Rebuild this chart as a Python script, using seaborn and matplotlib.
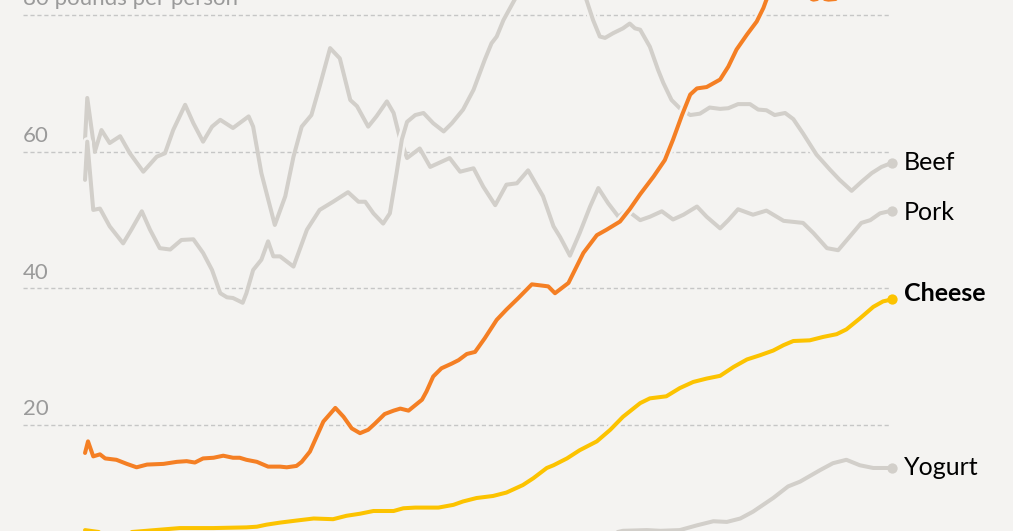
import matplotlib
matplotlib.use("Agg")
import matplotlib.pyplot as plt
import matplotlib.patheffects as pe
import numpy as np
import pandas as pd
import seaborn as sns

# Per-capita consumption, pounds per person
pork_year = [1909.0, 1909.3, 1910.3, 1911.2, 1912.3, 1913.7, 1915.0, 1916.8, 1918.6, 1919.7,
             1920.8, 1922.4, 1923.5, 1924.8, 1926.0, 1927.1, 1928.8, 1930.9, 1931.5, 1932.6,
             1934.4, 1935.8, 1936.9, 1938.0, 1939.3, 1940.4, 1941.8, 1943.1, 1944.5, 1945.4,
             1946.9, 1948.0, 1949.4, 1950.3, 1951.1, 1952.1, 1953.8, 1955.2, 1957.8, 1959.2,
             1961.0, 1962.3, 1963.9, 1965.4, 1966.8, 1968.3, 1970.3, 1971.7, 1972.6, 1973.9,
             1975.2, 1976.6, 1977.7, 1979.0, 1980.4, 1981.5, 1983.3, 1984.6, 1986.2, 1987.7,
             1989.1, 1990.9, 1992.2, 1994.0, 1995.1, 1996.4, 1998.4, 2000.2, 2002.5, 2005.1,
             2006.5, 2008.3, 2009.8, 2011.2, 2012.9, 2014.1, 2015.4, 2017.0]
pork_lbs = [61.8, 67.9, 60.0, 63.2, 61.3, 62.3, 59.8, 57.1, 59.3, 59.8,
            63.2, 66.9, 64.2, 61.5, 63.7, 64.7, 63.5, 65.2, 63.7, 56.9,
            49.3, 53.5, 59.3, 63.7, 65.4, 69.6, 75.2, 73.7, 67.6, 66.7,
            63.7, 65.2, 67.4, 65.7, 62.2, 59.1, 60.5, 57.8, 59.1, 57.1,
            57.6, 54.9, 52.2, 55.2, 55.4, 57.3, 53.5, 49.1, 47.5, 44.8,
            48.1, 52.0, 54.7, 52.5, 50.5, 51.5, 50.0, 50.5, 51.3, 50.1,
            50.8, 52.0, 50.5, 48.8, 50.0, 51.6, 50.8, 51.4, 49.9, 49.6,
            48.1, 45.9, 45.6, 47.4, 49.6, 50.0, 51.0, 51.4]

beef_year = [1909.0, 1909.3, 1910.1, 1911.0, 1912.3, 1914.1, 1915.2, 1916.6, 1917.7, 1919.0,
             1920.4, 1921.9, 1923.5, 1924.8, 1926.0, 1927.1, 1928.0, 1928.8, 1930.1, 1930.6,
             1931.5, 1932.6, 1933.5, 1934.2, 1935.1, 1936.9, 1938.7, 1940.4, 1942.2, 1944.2,
             1945.6, 1946.5, 1947.6, 1948.9, 1949.8, 1950.7, 1951.4, 1952.1, 1953.2, 1954.3,
             1955.6, 1957.0, 1958.1, 1959.6, 1961.0, 1962.5, 1963.4, 1964.1, 1965.0, 1966.5,
             1968.0, 1970.0, 1972.0, 1974.0, 1975.2, 1976.1, 1977.0, 1977.9, 1978.6, 1979.7,
             1981.0, 1981.9, 1982.6, 1983.3, 1984.6, 1985.7, 1986.4, 1987.5, 1988.6, 1990.0,
             1991.3, 1992.6, 1994.0, 1995.1, 1996.4, 1998.0, 1999.1, 2000.2, 2001.3, 2002.7,
             2003.8, 2005.1, 2006.9, 2008.7, 2010.0, 2011.6, 2012.9, 2014.3, 2015.6, 2017.0]
beef_lbs = [55.9, 61.5, 51.5, 51.7, 49.1, 46.6, 48.6, 51.3, 48.6, 45.9,
            45.7, 47.1, 47.2, 45.2, 42.7, 39.3, 38.7, 38.6, 37.9, 39.3,
            42.7, 44.2, 46.9, 44.7, 44.7, 43.2, 48.6, 51.5, 52.7, 54.1,
            52.7, 52.7, 51.0, 49.5, 51.0, 56.9, 61.8, 64.4, 65.4, 65.7,
            64.2, 63.0, 64.2, 66.2, 69.1, 73.5, 75.9, 76.9, 79.3, 82.3,
            85.0, 87.0, 88.0, 87.5, 85.5, 82.3, 79.3, 76.9, 76.7, 77.4,
            78.1, 78.8, 78.1, 77.9, 75.4, 72.0, 70.1, 67.6, 66.4, 65.4,
            65.6, 66.5, 66.3, 66.4, 67.0, 67.0, 66.2, 66.1, 65.4, 65.7,
            64.8, 62.7, 59.6, 57.4, 55.9, 54.3, 55.6, 56.9, 57.8, 58.4]

chicken_year = [1909.0, 1909.4, 1910.1, 1911.0, 1911.7, 1913.2, 1914.6, 1915.9, 1917.3, 1919.5,
                1921.3, 1922.6, 1923.7, 1924.8, 1926.2, 1927.5, 1928.8, 1929.7, 1930.6, 1932.0,
                1933.5, 1935.1, 1936.0, 1937.3, 1938.0, 1939.1, 1940.0, 1940.9, 1942.5, 1943.6,
                1944.7, 1945.8, 1946.9, 1947.8, 1949.1, 1950.3, 1951.2, 1952.3, 1953.2, 1954.1,
                1954.7, 1955.6, 1956.7, 1958.1, 1959.0, 1960.1, 1961.2, 1962.5, 1964.1, 1965.4,
                1967.0, 1968.8, 1970.3, 1971.0, 1971.9, 1973.7, 1974.7, 1975.7, 1977.5, 1978.8,
                1980.6, 1981.9, 1983.3, 1985.1, 1986.6, 1987.7, 1988.9, 1990.0, 1990.9, 1992.2,
                1994.0, 1995.1, 1996.2, 1997.6, 1998.9, 1999.8, 2000.2, 2001.5, 2003.0, 2004.5,
                2005.7, 2006.5, 2007.5, 2008.5, 2009.5, 2010.3, 2012.0, 2014.0, 2017.0]
chicken_lbs = [15.9, 17.6, 15.4, 15.7, 15.1, 14.9, 14.3, 13.8, 14.2, 14.3,
               14.6, 14.7, 14.5, 15.1, 15.2, 15.5, 15.2, 15.2, 14.9, 14.6,
               13.9, 13.9, 13.8, 14.0, 14.6, 16.1, 18.3, 20.5, 22.5, 21.2,
               19.5, 18.8, 19.3, 20.2, 21.6, 22.1, 22.4, 22.1, 22.9, 23.7,
               24.9, 27.1, 28.3, 29.0, 29.5, 30.4, 30.7, 32.7, 35.4, 36.9,
               38.6, 40.6, 40.4, 40.3, 39.3, 40.8, 43.0, 45.2, 47.8, 48.6,
               49.8, 51.6, 53.8, 56.4, 58.8, 61.8, 65.4, 68.4, 69.3, 69.5,
               70.6, 72.5, 75.0, 77.2, 79.1, 81.1, 82.3, 84.5, 85.5, 84.5,
               82.6, 82.3, 82.5, 82.3, 82.4, 83.5, 85.5, 87.5, 91.0]

cheese_year = [1909.0, 1911.0, 1915.0, 1921.7, 1926.2, 1930.6, 1932.0, 1933.3, 1935.1, 1937.3,
               1939.6, 1942.2, 1944.0, 1945.8, 1947.6, 1950.3, 1951.6, 1953.2, 1956.3, 1958.3,
               1959.6, 1961.4, 1963.6, 1965.4, 1967.6, 1969.0, 1970.8, 1971.7, 1973.5, 1975.2,
               1977.5, 1979.3, 1981.0, 1983.3, 1984.6, 1986.8, 1988.6, 1990.4, 1992.2, 1994.0,
               1995.8, 1997.6, 1999.3, 2001.1, 2002.5, 2003.8, 2006.0, 2007.8, 2009.6, 2010.9,
               2012.7, 2014.5, 2015.8, 2017.0]
cheese_lbs = [4.6, 4.3, 4.3, 4.9, 4.9, 5.0, 5.1, 5.4, 5.7, 6.0,
              6.3, 6.2, 6.7, 7.0, 7.4, 7.4, 7.8, 7.9, 7.9, 8.3,
              8.8, 9.3, 9.6, 10.1, 11.2, 12.2, 13.7, 14.1, 15.1, 16.3,
              17.6, 19.3, 21.2, 23.2, 23.9, 24.2, 25.4, 26.3, 26.8, 27.2,
              28.5, 29.6, 30.2, 30.9, 31.7, 32.3, 32.4, 32.9, 33.3, 34.0,
              35.6, 37.3, 38.1, 38.4]

yogurt_year = [1909.0, 1950.0, 1965.0, 1975.0, 1979.0, 1981.0, 1984.2, 1986.0, 1988.6, 1990.9,
               1993.1, 1994.9, 1996.7, 1998.4, 2001.1, 2003.1, 2004.7, 2007.4, 2009.1, 2010.9,
               2012.7, 2014.5, 2017.0]
yogurt_lbs = [0.0, 0.5, 1.0, 2.5, 4.0, 4.5, 4.6, 4.5, 4.6, 5.3,
              5.9, 5.8, 6.3, 7.3, 9.3, 11.0, 11.7, 13.4, 14.4, 14.9,
              14.1, 13.7, 13.7]

gridlines = [20, 40, 60, 80]
grid_labels = ["20", "40", "60", "80 pounds per person"]

BG = "#f4f3f1"
GRAY = "#d2cfca"
ORANGE = "#f47f24"
YELLOW = "#fcc300"

sns.set_style("white")
plt.rcParams["font.family"] = ["Lato", "DejaVu Sans"]

fig = plt.figure(figsize=(10.13, 5.31), dpi=100, facecolor=BG)
ax = fig.add_axes([0, 0, 1, 1])
ax.set_facecolor(BG)
ax.set_xlim(1897.62, 2033.2)
ax.set_ylim(4.47, 82.25)
ax.axis("off")

# dashed gridlines with their labels sitting on top
ax.hlines(gridlines, 1900.7, 2016.8, colors="#c6c6c6", linestyles=(0, (3, 2)), lw=1, zorder=1)
for g, lab in zip(gridlines, grid_labels):
    ax.text(1900.7, g + 1.45, lab, fontsize=16, color="#9a9a9a", va="baseline", ha="left")

series = [
    ("Pork", pork_year, pork_lbs, GRAY, False, 2),
    ("Beef", beef_year, beef_lbs, GRAY, True, 3),
    ("Yogurt", yogurt_year, yogurt_lbs, GRAY, False, 3),
    ("Cheese", cheese_year, cheese_lbs, YELLOW, True, 4),
    ("Chicken", chicken_year, chicken_lbs, ORANGE, True, 5),
]

for name, yrs, vals, col, halo, z in series:
    df = pd.DataFrame({"year": yrs, "lbs": vals})
    sns.lineplot(data=df, x="year", y="lbs", ax=ax, color=col, lw=2.9,
                 estimator=None, sort=False, legend=False)
    line = ax.lines[-1]
    line.set_zorder(z)
    line.set_solid_capstyle("round")
    line.set_solid_joinstyle("round")
    if halo:
        line.set_path_effects([pe.Stroke(linewidth=6.5, foreground=BG), pe.Normal()])

# end dots and labels
ends = [("Beef", beef_year, beef_lbs, GRAY, 0.1, "normal"),
        ("Pork", pork_year, pork_lbs, GRAY, -0.3, "normal"),
        ("Cheese", cheese_year, cheese_lbs, YELLOW, 0.9, "bold"),
        ("Yogurt", yogurt_year, yogurt_lbs, GRAY, 0.1, "normal")]
for name, yrs, vals, col, dy, wt in ends:
    ax.scatter([yrs[-1]], [vals[-1]], s=55, color=col, zorder=6, linewidths=0)
    ax.text(2018.6, vals[-1] + dy, name, fontsize=18, fontweight=wt,
            color="black", va="center", ha="left", zorder=7)

fig.savefig("out.png", dpi=100, facecolor=BG)
